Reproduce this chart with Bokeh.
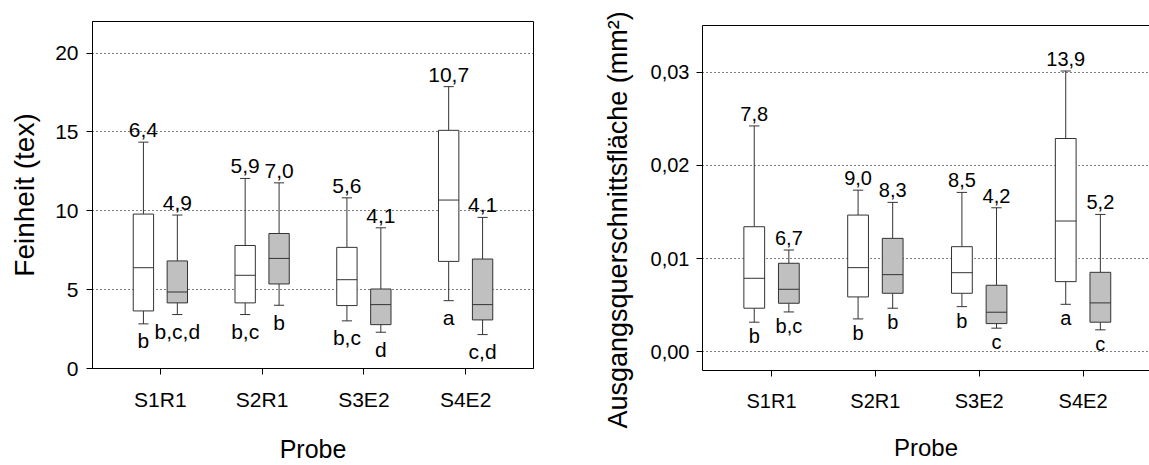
import math
from bokeh.plotting import figure
from bokeh.layouts import row
from bokeh.models import (ColumnDataSource, Range1d, FixedTicker, LinearAxis,
                          Title, CustomJSTickFormatter)
from bokeh.embed import file_html
from bokeh.resources import INLINE
from bokeh.core.properties import value

FONT = "Liberation Sans"

categories = ["S1R1", "S2R1", "S3E2", "S4E2"]

# ---- left panel: Feinheit (tex) ----
fein_white_low = [2.83, 3.42, 3.02, 4.30]
fein_white_q1 = [3.65, 4.16, 3.99, 6.79]
fein_white_med = [6.39, 5.91, 5.63, 10.68]
fein_white_q3 = [9.79, 7.80, 7.68, 15.10]
fein_white_high = [14.35, 12.05, 10.82, 17.87]
fein_white_top = ["6,4", "5,9", "5,6", "10,7"]
fein_white_bottom = ["b", "b,c", "b,c", "a"]

fein_grey_low = [3.42, 4.01, 2.30, 2.15]
fein_grey_q1 = [4.16, 5.36, 2.78, 3.08]
fein_grey_med = [4.85, 6.98, 4.05, 4.05]
fein_grey_q3 = [6.82, 8.56, 5.04, 6.94]
fein_grey_high = [9.73, 11.77, 8.92, 9.58]
fein_grey_top = ["4,9", "7,0", "4,1", "4,1"]
fein_grey_bottom = ["b,c,d", "b", "d", "c,d"]

# ---- right panel: Ausgangsquerschnittsfläche (mm²) ----
area_white_low = [0.00318, 0.00353, 0.00485, 0.00510]
area_white_q1 = [0.00468, 0.00589, 0.00628, 0.00753]
area_white_med = [0.00789, 0.00903, 0.00849, 0.01403]
area_white_q3 = [0.01342, 0.01467, 0.01128, 0.02288]
area_white_high = [0.02423, 0.01734, 0.01710, 0.03012]
area_white_top = ["7,8", "9,0", "8,5", "13,9"]
area_white_bottom = ["b", "b", "b", "a"]

area_grey_low = [0.00428, 0.00468, 0.00254, 0.00236]
area_grey_q1 = [0.00521, 0.00628, 0.00303, 0.00318]
area_grey_med = [0.00671, 0.00828, 0.00425, 0.00525]
area_grey_q3 = [0.00950, 0.01217, 0.00714, 0.00853]
area_grey_high = [0.01092, 0.01603, 0.01545, 0.01474]
area_grey_top = ["6,7", "8,3", "4,2", "5,2"]
area_grey_bottom = ["b,c", "b", "c", "c"]

LINE = "#333333"
GREY = "#c0c0c0"
BOX_W = 0.2
CAP_W = 0.1
OFFSET = 1.0 / 6.0


def draw_series(p, shift, low, q1, med, q3, high, fill, top_txt, bot_txt, fsize, top_off, bot_off):
    xs = [i + 1 + shift for i in range(len(categories))]
    src = ColumnDataSource(dict(
        x=xs, x0=[x - BOX_W / 2 for x in xs], x1=[x + BOX_W / 2 for x in xs],
        c0=[x - CAP_W / 2 for x in xs], c1=[x + CAP_W / 2 for x in xs],
        low=low, q1=q1, med=med, q3=q3, high=high, top_txt=top_txt, bot_txt=bot_txt))
    p.segment(x0="x", y0="q3", x1="x", y1="high", source=src, line_color=LINE, line_width=1)
    p.segment(x0="x", y0="q1", x1="x", y1="low", source=src, line_color=LINE, line_width=1)
    p.segment(x0="c0", y0="high", x1="c1", y1="high", source=src, line_color=LINE, line_width=1)
    p.segment(x0="c0", y0="low", x1="c1", y1="low", source=src, line_color=LINE, line_width=1)
    p.quad(left="x0", right="x1", bottom="q1", top="q3", source=src,
           fill_color=fill, line_color=LINE, line_width=1)
    p.segment(x0="x0", y0="med", x1="x1", y1="med", source=src, line_color=LINE, line_width=1)
    p.text(x="x", y="high", text="top_txt", source=src, text_align="center",
           text_baseline="alphabetic", y_offset=top_off, text_font=value(FONT),
           text_font_size=fsize, text_color="black")
    p.text(x="x", y="low", text="bot_txt", source=src, text_align="center",
           text_baseline="alphabetic", y_offset=bot_off, text_font=value(FONT),
           text_font_size=fsize, text_color="black")


def style_axes(p, tick_size):
    for ax in (p.xaxis[0], p.yaxis[0]):
        ax.axis_line_color = "black"
        ax.axis_line_width = 1
        ax.major_tick_line_color = "black"
        ax.major_tick_in = 0
        ax.major_tick_out = 6
        ax.minor_tick_line_color = None
        ax.major_label_text_font = FONT
        ax.major_label_text_font_size = tick_size
        ax.major_label_text_color = "black"
        ax.axis_label_text_font = FONT
        ax.axis_label_text_font_style = "normal"
        ax.axis_label_text_color = "black"
    p.xaxis[0].ticker = FixedTicker(ticks=[1, 2, 3, 4])
    p.xaxis[0].major_label_overrides = {i + 1: c for i, c in enumerate(categories)}
    p.xgrid.visible = False
    p.ygrid.grid_line_color = "black"
    p.ygrid.grid_line_dash = "1 3"
    p.ygrid.grid_line_width = 1


# ---------------- left figure ----------------
p1 = figure(width=560, height=465, x_range=Range1d(0.333, 4.667), y_range=Range1d(0, 22),
            output_backend="svg", toolbar_location=None, frame_align=False,
            min_border_left=92, min_border_right=27, min_border_top=21, min_border_bottom=97)
p1.background_fill_color = "white"
p1.border_fill_color = "white"
p1.outline_line_color = "black"
p1.outline_line_width = 1
style_axes(p1, "21px")
p1.yaxis[0].ticker = FixedTicker(ticks=[0, 5, 10, 15, 20])
p1.ygrid.ticker = FixedTicker(ticks=[5, 10, 15, 20])
p1.yaxis[0].major_label_standoff = 8
p1.yaxis[0].axis_label = "Feinheit (tex)"
p1.yaxis[0].axis_label_text_font_size = "28px"
p1.yaxis[0].axis_label_standoff = 12
p1.xaxis[0].major_label_standoff = 13
p1.xaxis[0].axis_label = "Probe"
p1.xaxis[0].axis_label_text_font_size = "25px"
p1.xaxis[0].axis_label_standoff = 21

draw_series(p1, -OFFSET, fein_white_low, fein_white_q1, fein_white_med, fein_white_q3,
            fein_white_high, "white", fein_white_top, fein_white_bottom, "21px", -12, 17)
draw_series(p1, OFFSET, fein_grey_low, fein_grey_q1, fein_grey_med, fein_grey_q3,
            fein_grey_high, GREY, fein_grey_top, fein_grey_bottom, "21px", -12, 17)

# ---------------- right figure ----------------
p2 = figure(width=589, height=465, x_range=Range1d(0.335, 4.64), y_range=Range1d(-0.002, 0.035),
            output_backend="svg", toolbar_location=None, frame_align=False,
            min_border_left=142, min_border_right=0, min_border_top=25, min_border_bottom=95)
p2.background_fill_color = "white"
p2.border_fill_color = "white"
p2.outline_line_color = None
style_axes(p2, "20px")
p2.yaxis[0].ticker = FixedTicker(ticks=[0, 0.01, 0.02, 0.03])
p2.ygrid.ticker = FixedTicker(ticks=[0, 0.01, 0.02, 0.03])
p2.yaxis[0].formatter = CustomJSTickFormatter(code="return tick.toFixed(2).replace('.', ',');")
p2.yaxis[0].major_label_standoff = 7
p2.xaxis[0].major_label_standoff = 13
p2.xaxis[0].axis_label = "Probe"
p2.xaxis[0].axis_label_text_font_size = "24px"
p2.xaxis[0].axis_label_standoff = 19

top_axis = LinearAxis(ticker=FixedTicker(ticks=[]), axis_line_color="black",
                      major_tick_line_color=None, minor_tick_line_color=None,
                      major_label_text_font_size="0px")
p2.add_layout(top_axis, "above")

ytitle = Title(text="Ausgangsquerschnittsfläche (mm²)", align="left", offset=-58,
               standoff=30, text_font=FONT, text_font_size="27px",
               text_font_style="normal", text_color="black")
p2.add_layout(ytitle, "left")

draw_series(p2, -OFFSET, area_white_low, area_white_q1, area_white_med, area_white_q3,
            area_white_high, "white", area_white_top, area_white_bottom, "20px", -12, 14)
draw_series(p2, OFFSET, area_grey_low, area_grey_q1, area_grey_med, area_grey_q3,
            area_grey_high, GREY, area_grey_top, area_grey_bottom, "20px", -12, 14)

layout = row(p1, p2)
open("out.html", "w").write(file_html(layout, INLINE))
